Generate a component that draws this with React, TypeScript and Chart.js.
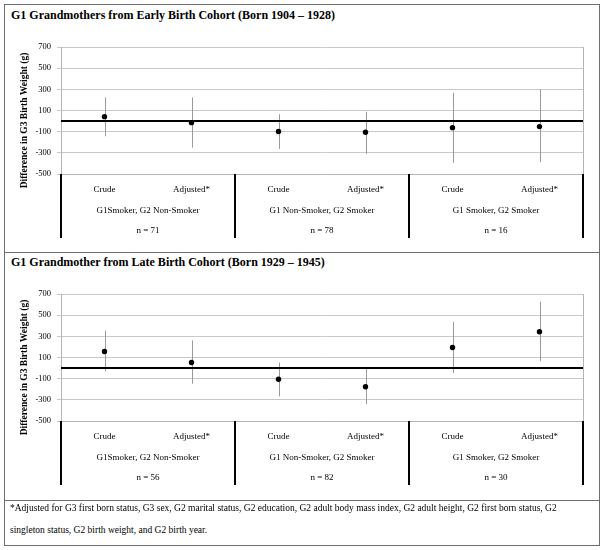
import React, { useEffect, useRef } from 'react';
import { Chart, registerables } from 'chart.js';

Chart.register(...registerables);

// ---------- data ----------
const categories = ['Crude', 'Adjusted*', 'Crude', 'Adjusted*', 'Crude', 'Adjusted*'];
const groups = ['G1Smoker, G2 Non-Smoker', 'G1 Non-Smoker, G2 Smoker', 'G1 Smoker, G2 Smoker'];
const yTicks = [-500, -300, -100, 100, 300, 500, 700];
const yTitle = 'Difference in G3 Birth Weight (g)';

const earlyTitle = 'G1 Grandmothers from Early Birth Cohort (Born 1904 \u2013 1928)';
const earlyN = ['n = 71', 'n = 78', 'n = 16'];
const earlyEst = [42, -15, -98, -105, -62, -52];
const earlyLow = [-144, -250, -263, -310, -395, -387];
const earlyHigh = [224, 224, 65, 88, 268, 300];

const lateTitle = 'G1 Grandmother from Late Birth Cohort (Born 1929 \u2013 1945)';
const lateN = ['n = 56', 'n = 82', 'n = 30'];
const lateEst = [157, 53, -106, -176, 195, 344];
const lateLow = [-31, -148, -268, -341, -47, 65];
const lateHigh = [353, 262, 53, 3, 437, 627];

const footnote1 = '*Adjusted for G3 first born status, G3 sex, G2 marital status, G2 education, G2 adult body mass index, G2 adult height, G2 first born status, G2';
const footnote2 = 'singleton status, G2 birth weight, and G2 birth year.';

const FONT = '"Liberation Serif", "Times New Roman", Times, serif';

function buildConfig(est: number[], low: number[], high: number[], nLabels: string[]): any {
  const decor = {
    id: 'panelDecor',
    beforeDatasetsDraw(chart: any) {
      const { ctx, chartArea, scales } = chart;
      const x = scales.x;
      const y = scales.y;
      ctx.save();
      // right frame edge
      ctx.strokeStyle = '#b4b4b4';
      ctx.lineWidth = 1;
      ctx.beginPath();
      ctx.moveTo(Math.round(chartArea.right) + 0.5, chartArea.top);
      ctx.lineTo(Math.round(chartArea.right) + 0.5, chartArea.bottom);
      ctx.stroke();
      // error bars
      ctx.strokeStyle = '#9a9a9a';
      ctx.lineWidth = 1;
      est.forEach((_, i) => {
        const px = Math.round(x.getPixelForValue(i)) + 0.5;
        ctx.beginPath();
        ctx.moveTo(px, y.getPixelForValue(high[i]));
        ctx.lineTo(px, y.getPixelForValue(low[i]));
        ctx.stroke();
      });
      // zero reference line
      const zy = y.getPixelForValue(0);
      ctx.strokeStyle = '#000';
      ctx.lineWidth = 2;
      ctx.beginPath();
      ctx.moveTo(chartArea.left, zy);
      ctx.lineTo(chartArea.right, zy);
      ctx.stroke();
      ctx.restore();
    },
    afterDraw(chart: any) {
      const { ctx, chartArea, scales } = chart;
      const x = scales.x;
      const per = categories.length / groups.length;
      const bounds: number[] = [];
      for (let g = 0; g <= groups.length; g++) {
        if (g === 0) bounds.push(chartArea.left);
        else if (g === groups.length) bounds.push(chartArea.right);
        else bounds.push((x.getPixelForValue(g * per - 1) + x.getPixelForValue(g * per)) / 2);
      }
      ctx.save();
      ctx.strokeStyle = '#000';
      ctx.lineWidth = 2;
      bounds.forEach((b) => {
        const px = Math.round(b);
        ctx.beginPath();
        ctx.moveTo(px, chartArea.bottom);
        ctx.lineTo(px, chartArea.bottom + 64);
        ctx.stroke();
      });
      ctx.fillStyle = '#000';
      ctx.textAlign = 'center';
      ctx.textBaseline = 'middle';
      ctx.font = `9px ${FONT}`;
      groups.forEach((name, g) => {
        const cx = (bounds[g] + bounds[g + 1]) / 2;
        ctx.fillText(name, cx, chartArea.bottom + 37);
        ctx.fillText(nLabels[g], cx, chartArea.bottom + 57);
      });
      // y axis title
      ctx.translate(25, (chartArea.top + chartArea.bottom) / 2 + 10);
      ctx.rotate(-Math.PI / 2);
      ctx.font = `bold 9.5px ${FONT}`;
      ctx.fillText(yTitle, 0, 0);
      ctx.restore();
    },
  };

  return {
    type: 'line',
    data: {
      labels: categories,
      datasets: [
        {
          data: est,
          showLine: false,
          pointRadius: 2.7,
          pointHoverRadius: 2.7,
          pointBackgroundColor: '#000',
          pointBorderColor: '#000',
          pointBorderWidth: 0,
        },
      ],
    },
    options: {
      responsive: false,
      animation: false,
      devicePixelRatio: 1,
      layout: { padding: { top: 47, right: 22, bottom: 6, left: 0 } },
      plugins: { legend: { display: false }, tooltip: { enabled: false }, title: { display: false } },
      scales: {
        x: {
          type: 'category',
          offset: true,
          grid: { display: false, drawTicks: false },
          border: { display: true, color: '#b4b4b4', width: 1 },
          ticks: { color: '#000', font: { family: FONT, size: 9 }, padding: 10, maxRotation: 0, autoSkip: false },
          afterFit: (s: any) => {
            s.height = 70;
          },
        },
        y: {
          min: -500,
          max: 700,
          afterBuildTicks: (s: any) => {
            s.ticks = yTicks.map((v) => ({ value: v }));
          },
          afterFit: (s: any) => {
            s.width = 61;
          },
          grid: { color: '#c8c8c8', lineWidth: 1, tickLength: 4, drawTicks: true },
          border: { display: true, color: '#b4b4b4', width: 1 },
          ticks: { color: '#000', font: { family: FONT, size: 8.5 }, padding: 6 },
        },
      },
    },
    plugins: [decor],
  };
}

function Panel({ top, est, low, high, n }: { top: number; est: number[]; low: number[]; high: number[]; n: string[] }) {
  const ref = useRef<HTMLCanvasElement>(null);
  useEffect(() => {
    if (!ref.current) return;
    const chart = new Chart(ref.current, buildConfig(est, low, high, n));
    return () => chart.destroy();
  }, []);
  return (
    <canvas
      ref={ref}
      width={605}
      height={250}
      style={{ position: 'absolute', left: 0, top, width: 605, height: 250 }}
    />
  );
}

export default function App() {
  useEffect(() => {
    document.body.style.margin = '0';
  }, []);
  const line = '#6e6e6e';
  return (
    <div style={{ position: 'relative', width: 605, height: 550, background: '#fff', fontFamily: FONT, color: '#000' }}>
      <div style={{ position: 'absolute', left: 4, top: 4, width: 596, height: 542, border: `1px solid ${line}`, boxSizing: 'border-box' }} />
      <div style={{ position: 'absolute', left: 4, top: 252, width: 596, height: 1, background: line }} />
      <div style={{ position: 'absolute', left: 4, top: 500, width: 596, height: 1, background: line }} />
      <div style={{ position: 'absolute', left: 11, top: 8, fontWeight: 'bold', fontSize: 12, lineHeight: '15px', whiteSpace: 'nowrap' }}>{earlyTitle}</div>
      <div style={{ position: 'absolute', left: 11, top: 255, fontWeight: 'bold', fontSize: 12, lineHeight: '15px', whiteSpace: 'nowrap' }}>{lateTitle}</div>
      <Panel top={0} est={earlyEst} low={earlyLow} high={earlyHigh} n={earlyN} />
      <Panel top={247} est={lateEst} low={lateLow} high={lateHigh} n={lateN} />
      <div style={{ position: 'absolute', left: 10, top: 502, fontSize: 9.5, lineHeight: '13px', whiteSpace: 'nowrap' }}>{footnote1}</div>
      <div style={{ position: 'absolute', left: 10, top: 524, fontSize: 9.5, lineHeight: '13px', whiteSpace: 'nowrap' }}>{footnote2}</div>
    </div>
  );
}
